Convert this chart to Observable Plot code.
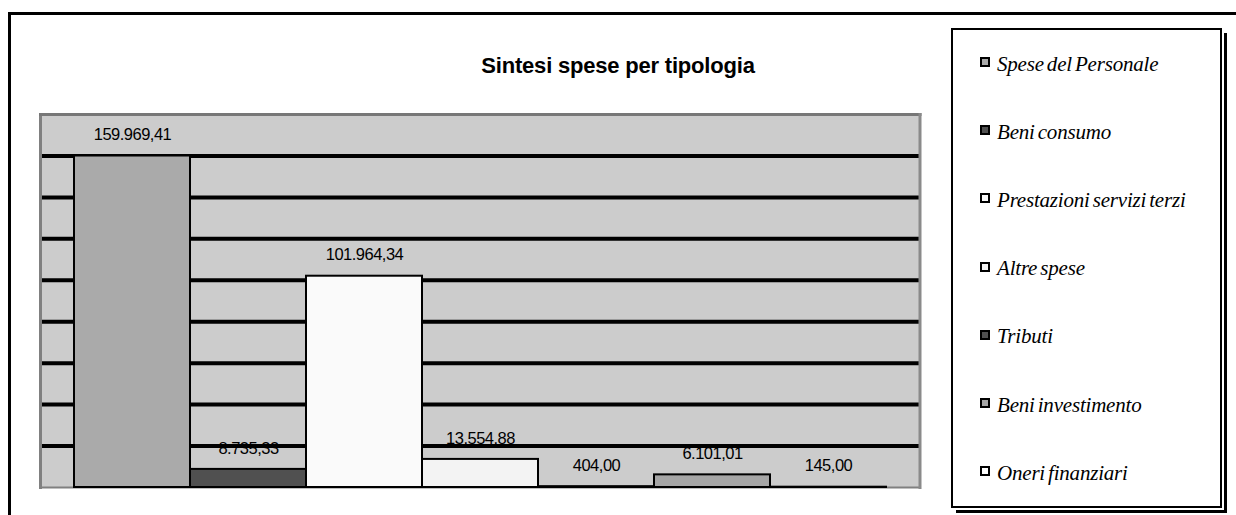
<!DOCTYPE html>
<html>
<head>
<meta charset="utf-8">
<script src="https://cdn.jsdelivr.net/npm/d3@7"></script>
<script src="https://cdn.jsdelivr.net/npm/@observablehq/plot@0.6"></script>
<style>
  body { margin: 0; background: #ffffff; }
  #wrap { position: relative; width: 1236px; height: 515px; overflow: hidden; background: #fff; }
  #frame { position: absolute; left: 8px; top: 12px; width: 1300px; height: 600px; border-top: 3px solid #000; border-left: 3px solid #000; }
  #chart { position: absolute; left: 0; top: 0; }
  #title { position: absolute; left: 0; width: 1236px; top: 53px; text-align: center; font: bold 22px "Liberation Sans", Arial, sans-serif; color: #000; letter-spacing: -0.2px; }
  #shadow { position: absolute; left: 956px; top: 33px; width: 271px; height: 480px; box-sizing: border-box; border-right: 3px solid #000; border-bottom: 3px solid #000; }
  #legend { position: absolute; left: 951px; top: 28px; width: 271px; height: 480px; box-sizing: border-box; border: 2px solid #000; background: #fff; }
  .item { position: absolute; left: 27px; height: 26px; display: flex; align-items: center; white-space: nowrap; }
  .swatch { width: 10px; height: 10px; box-sizing: border-box; border: 2px solid #000; margin-right: 7px; margin-top: -4px; flex: none; }
  .lab { font: italic 21px "Liberation Serif", "DejaVu Serif", serif; color: #000; word-spacing: -2px; letter-spacing: -0.2px; }
</style>
</head>
<body>
<div id="wrap">
  <div id="frame"></div>
  <div id="chart"></div>
  <div id="title">Sintesi spese per tipologia</div>
  <div id="shadow"></div>
  <div id="legend"></div>
</div>
<script>
// ---- data ----
const categories = ["Spese del Personale", "Beni consumo", "Prestazioni servizi terzi", "Altre spese", "Tributi", "Beni investimento", "Oneri finanziari"];
const values = [159969.41, 8735.33, 101964.34, 13554.88, 404.00, 6101.01, 145.00];
const valueLabels = ["159.969,41", "8.735,33", "101.964,34", "13.554.88", "404,00", "6.101,01", "145,00"];
const barColors = ["#aaaaaa", "#505050", "#fafafa", "#f3f3f3", "#505050", "#a6a6a6", "#ffffff"];
const gridTicks = [20000, 40000, 60000, 80000, 100000, 120000, 140000, 160000];
const yDomain = [0, 180000];

const data = categories.map((c, i) => ({cat: c, value: values[i], label: valueLabels[i]}));

const chart = Plot.plot({
  width: 940,
  height: 515,
  marginLeft: 40,
  marginRight: 20.5,
  marginTop: 114,
  marginBottom: 28,
  style: {fontFamily: '"Liberation Sans", Arial, sans-serif', background: "transparent", letterSpacing: "-0.5px"},
  x: {type: "band", domain: categories, padding: 0, insetLeft: 34, insetRight: 33.5, axis: null},
  y: {domain: yDomain, axis: null},
  color: {type: "ordinal", domain: categories, range: barColors},
  marks: [
    Plot.frame({fill: "#cccccc", stroke: "none"}),
    Plot.frame({anchor: "bottom", stroke: "#808080", strokeWidth: 2}),
    Plot.ruleY(gridTicks, {stroke: "#000000", strokeWidth: 4}),
    Plot.barY(data, {x: "cat", y: "value", fill: "cat", stroke: "#000000", strokeWidth: 2}),
    Plot.text(data, {x: "cat", y: "value", text: "label", dy: -21, lineAnchor: "middle", fontSize: 16.5, fill: "#000000"}),
    Plot.frame({anchor: "left", stroke: "#808080", strokeWidth: 3}),
    Plot.frame({anchor: "top", stroke: "#777777", strokeWidth: 3}),
    Plot.frame({anchor: "right", stroke: "#8a8a8a", strokeWidth: 3})
  ]
});
document.getElementById("chart").appendChild(chart);

// ---- legend ----
const legend = document.getElementById("legend");
const firstCenter = 34, step = 68.2;
categories.forEach((c, i) => {
  const it = document.createElement("div");
  it.className = "item";
  it.style.top = (firstCenter + i * step - 13) + "px";
  const sw = document.createElement("div");
  sw.className = "swatch";
  sw.style.background = barColors[i];
  const lb = document.createElement("span");
  lb.className = "lab";
  lb.textContent = c;
  it.appendChild(sw);
  it.appendChild(lb);
  legend.appendChild(it);
});
</script>
</body>
</html>
